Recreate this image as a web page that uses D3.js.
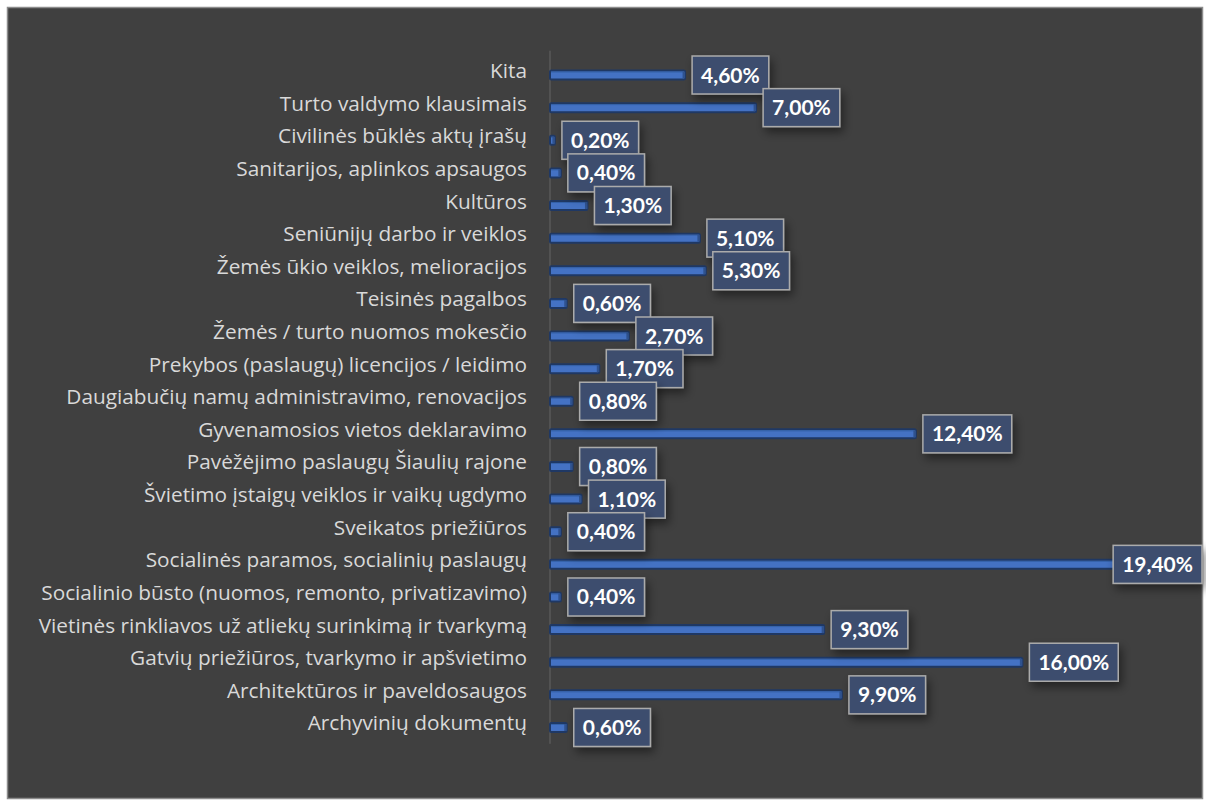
<!DOCTYPE html>
<html>
<head>
<meta charset="utf-8">
<script src="https://cdn.jsdelivr.net/npm/d3@7"></script>
<style>
  html,body{margin:0;padding:0;background:#fff;}
  svg{display:block;}
  .cat{font-family:"Open Sans",Lato,sans-serif;font-size:20.8px;fill:#d9d9d9;}
  .val{font-family:Lato,"Open Sans",sans-serif;font-size:21px;font-weight:bold;fill:#fff;}
</style>
</head>
<body>
<div id="chart"></div>
<script>
/* Kreipimųsi temos, % (horizontal bars, top to bottom) */
var categories=["Kita","Turto valdymo klausimais","Civilinės būklės aktų įrašų","Sanitarijos, aplinkos apsaugos",
    "Kultūros","Seniūnijų darbo ir veiklos","Žemės ūkio veiklos, melioracijos","Teisinės pagalbos",
    "Žemės / turto nuomos mokesčio","Prekybos (paslaugų) licencijos / leidimo","Daugiabučių namų administravimo, renovacijos",
    "Gyvenamosios vietos deklaravimo","Pavėžėjimo paslaugų Šiaulių rajone","Švietimo įstaigų veiklos ir vaikų ugdymo",
    "Sveikatos priežiūros","Socialinės paramos, socialinių paslaugų","Socialinio būsto (nuomos, remonto, privatizavimo)",
    "Vietinės rinkliavos už atliekų surinkimą ir tvarkymą","Gatvių priežiūros, tvarkymo ir apšvietimo",
    "Architektūros ir paveldosaugos ","Archyvinių dokumentų"];
var values=[4.6,7.0,0.2,0.4,1.3,5.1,5.3,0.6,2.7,1.7,0.8,12.4,0.8,1.1,0.4,19.4,0.4,9.3,16.0,9.9,0.6];

function fmtPct(v){return v.toFixed(2).replace(".",",")+"%";}

var W=1206,H=800;
var svg=d3.select("#chart").append("svg").attr("width",W).attr("height",H);

var defs=svg.append("defs");
var sh=defs.append("filter").attr("id","shadow").attr("x","-30%").attr("y","-40%").attr("width","170%").attr("height","200%");
sh.append("feDropShadow").attr("dx",3).attr("dy",5).attr("stdDeviation",5).attr("flood-color","#000").attr("flood-opacity",0.45);

// chart area frame
svg.append("rect").attr("x",7.5).attr("y",7.5).attr("width",1195).attr("height",791)
    .attr("fill","#404040").attr("stroke","#8c8c8c").attr("stroke-width",1.5);
var chartRight=1202;

var x=d3.scaleLinear().domain([0,19.4]).range([549,1123]);
var y=d3.scaleBand().domain(categories).range([58.7,743.8]);
var cy=function(d){return y(d)+y.bandwidth()/2;};

// vertical category axis line
svg.append("line").attr("x1",550).attr("x2",550).attr("y1",y.range()[0]-8).attr("y2",y.range()[1])
    .attr("stroke","#595959").attr("stroke-width",1.5);

// category labels
svg.append("g").selectAll("text").data(categories).enter().append("text")
    .attr("class","cat").attr("text-anchor","end").attr("x",527)
    .attr("y",function(d){return cy(d)+3;}).text(function(d){return d;});

var rows=categories.map(function(c,i){return {cat:c,val:values[i]};});

// bars (flat 3D look: dark rim, lighter core, small end cap)
var bars=svg.append("g").selectAll("g").data(rows).enter().append("g");
bars.append("rect").attr("x",x(0)+1).attr("y",function(d){return cy(d.cat)-4.5;})
    .attr("width",function(d){return Math.max(x(d.val)-x(0)-1,3);}).attr("height",9)
    .attr("fill","#4472c4").attr("stroke","#1f3864").attr("stroke-width",2).attr("rx",1.5);
bars.append("rect").attr("x",x(0)+2).attr("y",function(d){return cy(d.cat)-3.5;})
    .attr("width",function(d){return Math.max(x(d.val)-x(0)-3,1);}).attr("height",1)
    .attr("fill","#3461a8");
bars.append("rect").attr("x",function(d){return Math.max(x(d.val),x(0)+4)-2.5;}).attr("y",function(d){return cy(d.cat)-3.5;})
    .attr("width",2.5).attr("height",7).attr("fill","#2f528f");

// value labels in boxes
var lab=svg.append("g").selectAll("g").data(rows).enter().append("g");
lab.each(function(d){
    var g=d3.select(this);
    var t=g.append("text").attr("class","val").attr("text-anchor","middle").text(fmtPct(d.val));
    var tw=t.node().getComputedTextLength();
    var bw=tw+18,bh=38;
    var bx=Math.min(Math.max(x(d.val),x(0)+4)+7,chartRight-bw);
    var by=cy(d.cat)-bh/2;
    g.insert("rect","text").attr("x",bx).attr("y",by).attr("width",bw).attr("height",bh)
        .attr("fill","#3d4e6e").attr("stroke","#ababab").attr("stroke-width",1.5).attr("filter","url(#shadow)");
    t.attr("x",bx+bw/2).attr("y",by+bh/2+7.5);
});
</script>
</body>
</html>
